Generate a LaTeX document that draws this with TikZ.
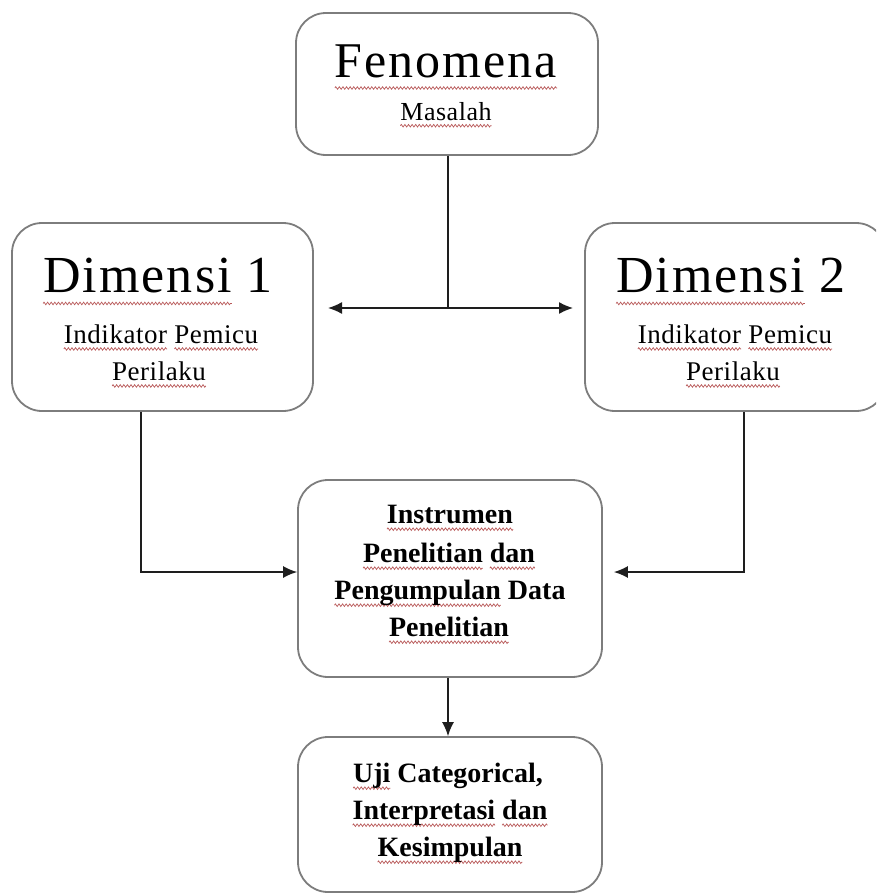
\documentclass[tikz,border=0pt]{standalone}
\usepackage{fontspec}
\setmainfont{Liberation Serif}
\newfontfamily\spacedbig[LetterSpace=4]{Liberation Serif}
\newfontfamily\spacedsmall[LetterSpace=2]{Liberation Serif}
\usetikzlibrary{arrows.meta,calc,decorations.pathmorphing}
\definecolor{boxgray}{RGB}{125,125,125}
\definecolor{linec}{RGB}{30,30,30}
\definecolor{squig}{RGB}{185,90,90}
\newlength\sqwd
\newlength\sqdp
\newcommand\sqw[1]{\settowidth\sqwd{#1}\setlength\sqdp{0.22em}%
  \rlap{\tikz[baseline=0pt]{\useasboundingbox (0pt,0pt) rectangle (\sqwd,0.01pt);
  \draw[squig,line width=0.7pt,decorate,decoration={zigzag,amplitude=1.3pt,segment length=3.6pt}] (0pt,-\sqdp) -- (\sqwd,-\sqdp);}}#1}
\begin{document}
\begin{tikzpicture}[x=1pt,y=1pt,
  box/.style={draw=boxgray,line width=1.8pt,rounded corners=30pt,fill=white,inner sep=0pt},
  conn/.style={draw=linec,line width=1.4pt},
  arr/.style={conn,-{Latex[length=14pt,width=12pt]}},
  txt/.style={anchor=base,inner sep=0pt,text=black},
  bigt/.style={txt,font=\spacedbig\fontsize{50pt}{50pt}\selectfont},
  bigd/.style={txt,font=\spacedbig\fontsize{52pt}{52pt}\selectfont},
  smallt/.style={txt,font=\spacedsmall\fontsize{27pt}{27pt}\selectfont},
  boldt/.style={txt,font=\bfseries\fontsize{28pt}{28pt}\selectfont}]
\useasboundingbox (0,0) rectangle (876,-894);
\clip (0,0) rectangle (876,-894);
% boxes
\node[box,minimum width=302pt,minimum height=142pt] (fen) at (447,-84) {};
\node[box,minimum width=301pt,minimum height=188pt] (dim1) at (162.5,-317) {};
\node[box,minimum width=301pt,minimum height=188pt] (dim2) at (735.5,-317) {};
\node[box,minimum width=304pt,minimum height=197pt] (ins) at (450,-578.5) {};
\node[box,minimum width=304pt,minimum height=155pt] (uji) at (450,-814.5) {};
% texts
\node[bigt] (fenA) at (446,-77) {\sqw{Fenomena}};
\node[smallt,font=\spacedsmall\fontsize{26pt}{26pt}\selectfont] (fenB) at (446,-120) {\sqw{Masalah}};
\node[bigd] (d1A) at (158,-292) {\sqw{Dimensi} 1};
\node[smallt] (d1B) at (161,-343) {\sqw{Indikator} \sqw{Pemicu}};
\node[smallt] (d1C) at (159,-380) {\sqw{Perilaku}};
\node[bigd] (d2A) at (731,-292) {\sqw{Dimensi} 2};
\node[smallt] (d2B) at (735,-343) {\sqw{Indikator} \sqw{Pemicu}};
\node[smallt] (d2C) at (733,-380) {\sqw{Perilaku}};
\node[boldt] (insA) at (450,-523) {\sqw{Instrumen}};
\node[boldt] (insB) at (449,-562) {\sqw{Penelitian} \sqw{dan}};
\node[boldt] (insC) at (450,-599) {\sqw{Pengumpulan} Data};
\node[boldt] (insD) at (449,-636) {\sqw{Penelitian}};
\node[boldt] (ujiA) at (448,-782) {\sqw{Uji} Categorical,};
\node[boldt] (ujiB) at (450,-819) {\sqw{Interpretasi} \sqw{dan}};
\node[boldt] (ujiC) at (450,-856) {\sqw{Kesimpulan}};
% connectors
\coordinate (jn) at (448,-308);
\coordinate (la) at (328,-308);
\coordinate (ra) at (573,-308);
\draw[conn] ([xshift=1pt]fen.south) -- (jn);
\draw[arr] (jn) -- (la);
\draw[arr] (jn) -- (ra);
\draw[arr] ([xshift=-21.5pt]dim1.south) |- ([yshift=6.5pt]ins.west);
\draw[arr] ([xshift=8.5pt]dim2.south) |- ([xshift=11pt,yshift=6.5pt]ins.east);
\draw[arr] ([xshift=-2pt]ins.south) -- ([xshift=-2pt]uji.north);
\end{tikzpicture}
\end{document}
